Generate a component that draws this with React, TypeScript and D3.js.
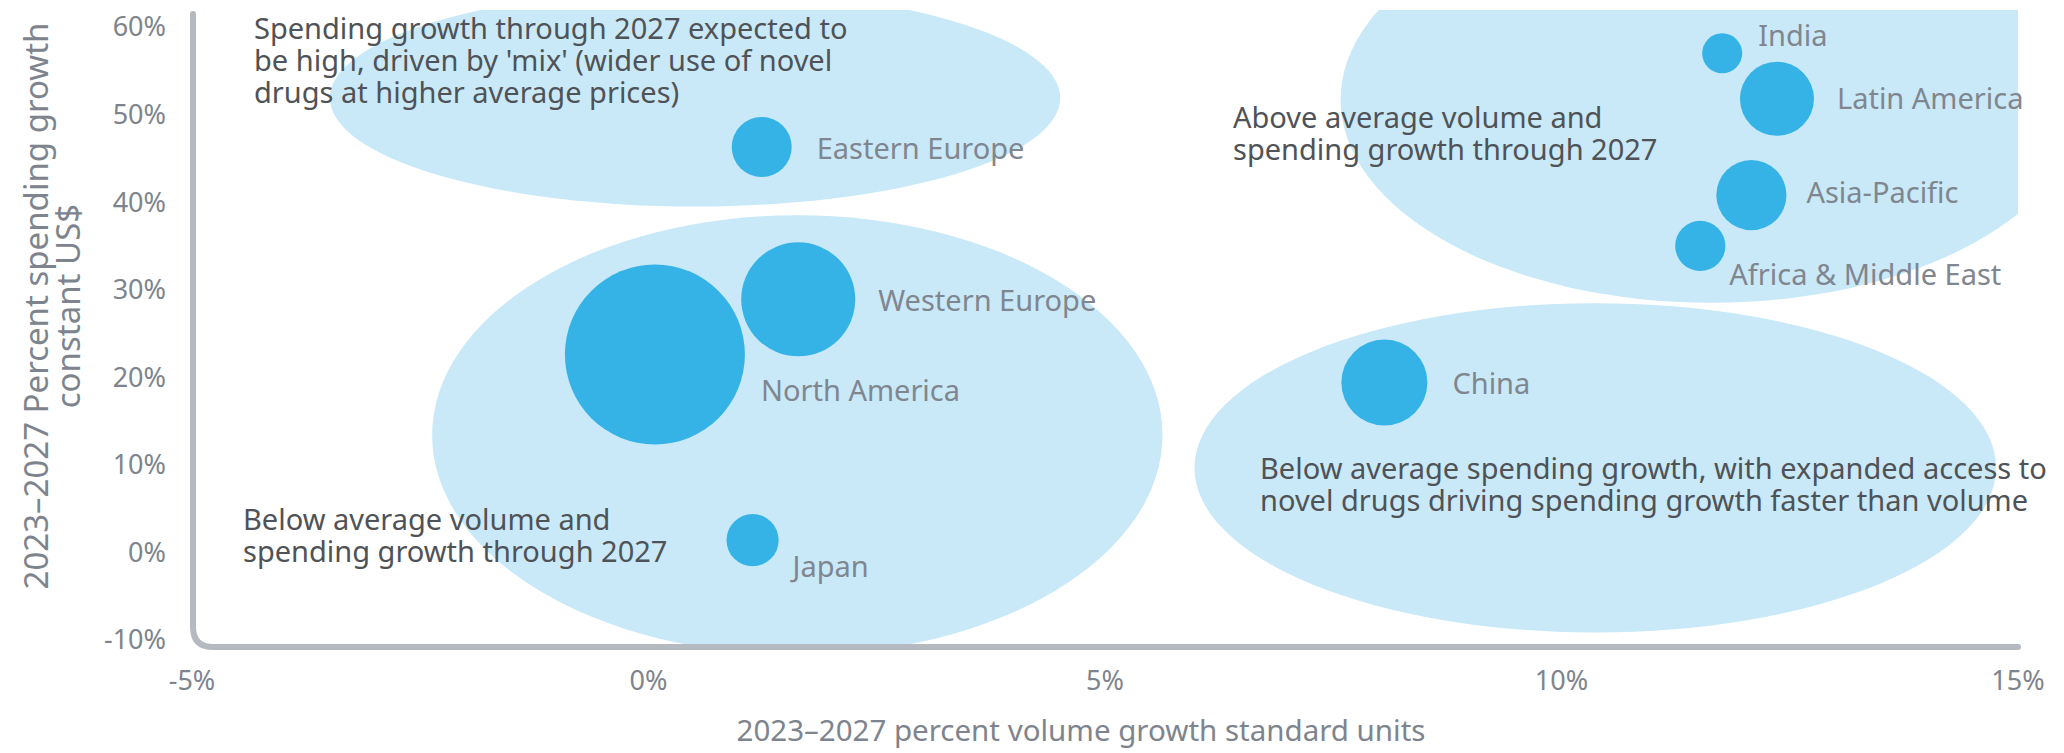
import React from "react";
import * as d3 from "d3";

// ---- data ----
const regions = ["North America", "Western Europe", "Eastern Europe", "Japan", "China", "India", "Latin America", "Asia-Pacific", "Africa & Middle East"];
const volumeGrowth = [0.07, 1.64, 1.24, 1.14, 8.06, 11.76, 12.36, 12.08, 11.52];
const spendingGrowth = [22.6, 28.9, 46.3, 1.4, 19.4, 57.0, 51.8, 40.8, 35.0];
const bubbleSize = [810, 325, 90, 68, 185, 40, 137, 123, 63];

const xTicks = [-5, 0, 5, 10, 15];
const yTicks = [-10, 0, 10, 20, 30, 40, 50, 60];

const zoneCx = [0.51, 1.63, 11.64, 10.37];
const zoneCy = [51.9, 13.4, 51.7, 9.66];
const zoneRx = [4.0, 4.0, 4.06, 4.39];
const zoneRy = [12.4, 25.1, 23.2, 18.8];

const annotations = [
  ["Spending growth through 2027 expected to", "be high, driven by 'mix' (wider use of novel", "drugs at higher average prices)"],
  ["Above average volume and", "spending growth through 2027"],
  ["Below average spending growth, with expanded access to", "novel drugs driving spending growth faster than volume"],
  ["Below average volume and", "spending growth through 2027"],
];

const xTitle = "2023\u20132027 percent volume growth standard units";
const yTitle = ["2023\u20132027 Percent spending growth", "constant US$"];

// ---- layout (pixels) ----
const W = 2064, H = 753;
const labelOffsets = [[106, 36], [80, 2], [55, 2], [40, 27], [68, 1], [36, -17], [60, 0], [55, -2], [29, 29]];
const annotationPos = [[254, 29], [1233, 118], [1260, 469], [243, 520]];
const FONT = "'Noto Sans', 'Open Sans', sans-serif";

export default function App() {
  const x = d3.scaleLinear().domain([-5, 15]).range([192, 2018]);
  const y = d3.scaleLinear().domain([-10, 60]).range([640, 27]);
  const r = d3.scaleSqrt().domain([0, d3.max(bubbleSize) as number]).range([0, 90]);

  const axisY = 647;
  const axisX = 193;
  const axisPath = `M${axisX},14 L${axisX},${axisY - 20} Q${axisX},${axisY} ${axisX + 20},${axisY} L2018,${axisY}`;

  return (
    <svg width={W} height={H} style={{ position: "absolute", left: 0, top: 0, display: "block", background: "#fff" }} fontFamily={FONT}>
      <defs>
        <clipPath id="plotClip">
          <rect x={axisX} y={10} width={2018 - axisX} height={axisY - 10} />
        </clipPath>
      </defs>
      <g clipPath="url(#plotClip)">
        {zoneCx.map((cx, i) => (
          <ellipse key={i} cx={x(cx)} cy={y(zoneCy[i])} rx={x(zoneRx[i]) - x(0)} ry={y(0) - y(zoneRy[i])} fill="#c9e9f8" />
        ))}
      </g>
      <path d={axisPath} fill="none" stroke="#b5b9c0" strokeWidth={6} strokeLinecap="round" />
      {yTicks.map((t) => (
        <text key={t} x={166} y={y(t)} dy="0.35em" textAnchor="end" fontSize={27} fill="#7e848d">{`${t}%`}</text>
      ))}
      {xTicks.map((t) => (
        <text key={t} x={x(t)} y={681} dy="0.35em" textAnchor="middle" fontSize={27} fill="#7e848d">{`${t}%`}</text>
      ))}
      <text x={1081} y={731} dy="0.35em" textAnchor="middle" fontSize={29.5} fill="#7e848d">{xTitle}</text>
      <g transform="translate(52,306) rotate(-90)">
        {yTitle.map((line, i) => (
          <text key={i} x={0} y={(i - 0.5) * 32} dy="0.35em" textAnchor="middle" fontSize={33} fill="#7e848d">{line}</text>
        ))}
      </g>
      {regions.map((name, i) => (
        <circle key={name} cx={x(volumeGrowth[i])} cy={y(spendingGrowth[i])} r={r(bubbleSize[i])} fill="#35b3e7" />
      ))}
      {regions.map((name, i) => (
        <text key={name} x={x(volumeGrowth[i]) + labelOffsets[i][0]} y={y(spendingGrowth[i]) + labelOffsets[i][1]} dy="0.35em" fontSize={29} fill="#80868f">{name}</text>
      ))}
      {annotations.map((lines, i) => (
        <text key={i} fontSize={29} fill="#4f5256">
          {lines.map((l, j) => (
            <tspan key={j} x={annotationPos[i][0]} y={annotationPos[i][1] + j * 32} dy="0.35em">{l}</tspan>
          ))}
        </text>
      ))}
    </svg>
  );
}
